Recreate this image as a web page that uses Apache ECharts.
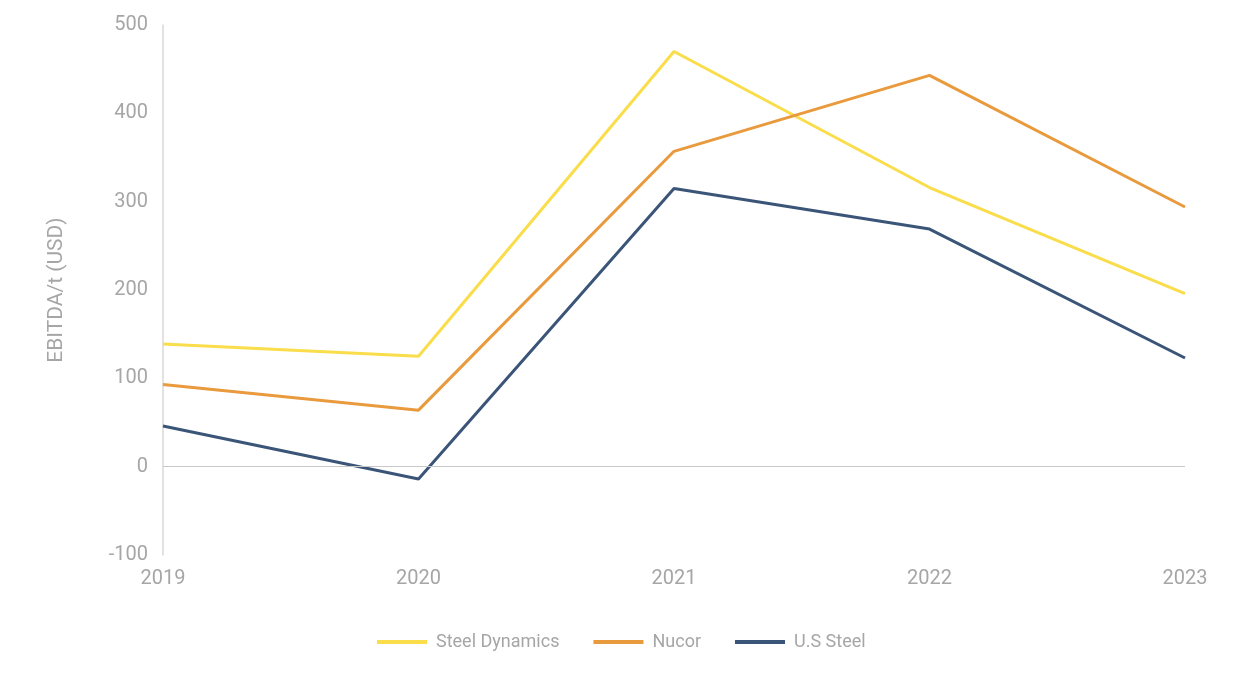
<!DOCTYPE html>
<html lang="en">

<head>
    <meta charset="UTF-8" />
    <title>EBITDA per tonne</title>
    <script src="https://cdn.jsdelivr.net/npm/echarts@6/dist/echarts.min.js"></script>
    <style>
        * {
            margin: 0;
        }

        #chart {
            width: 1254px;
            height: 683px;
            background-color: #ffffff;
        }
    </style>
</head>

<body>
    <div id="chart"></div>
    <script>
        const years = ["2019", "2020", "2021", "2022", "2023"];
        const steelDynamics = [139, 125, 470, 316, 196];
        const nucor = [93, 64, 357, 443, 294];
        const usSteel = [46, -14, 315, 269, 123];

        const labelColor = "#a6a6a6";
        const fontFamily = "Roboto, 'Noto Sans', sans-serif";

        const chart = echarts.init(document.getElementById("chart"));

        const lineSeries = (name, data, color) => ({
            name: name,
            type: "line",
            data: data,
            symbol: "none",
            lineStyle: { color: color, width: 3 },
            itemStyle: { color: color },
        });

        const series = [
            lineSeries("Steel Dynamics", steelDynamics, "#f9dd4a"),
            lineSeries("Nucor", nucor, "#e99a3c"),
            lineSeries("U.S Steel", usSteel, "#3b5578"),
        ];

        // zero line across the plot, x labels stay at the bottom
        series[0].markLine = {
            silent: true,
            symbol: "none",
            label: { show: false },
            lineStyle: { color: "#c8c8c8", width: 1, type: "solid" },
            data: [{ yAxis: 0 }],
        };

        chart.setOption({
            animation: false,
            textStyle: { fontFamily: fontFamily },
            grid: { left: 163, right: 69, top: 25, bottom: 128 },
            legend: {
                bottom: 27,
                left: 372,
                icon: "rect",
                itemWidth: 50,
                itemHeight: 4,
                itemGap: 34,
                textStyle: { color: labelColor, fontSize: 18, fontFamily: fontFamily, padding: [0, 0, 0, 4] },
            },
            xAxis: {
                type: "category",
                data: years,
                boundaryGap: false,
                axisLine: { show: false, onZero: false },
                axisTick: { show: false },
                axisLabel: { color: labelColor, fontSize: 20, margin: 14 },
            },
            yAxis: {
                type: "value",
                min: -100,
                max: 500,
                interval: 100,
                name: "EBITDA/t (USD)",
                nameLocation: "middle",
                nameGap: 96,
                nameTextStyle: { color: labelColor, fontSize: 21 },
                axisLine: { show: true, lineStyle: { color: "#d9d9d9", width: 1.5 } },
                axisTick: { show: false },
                splitLine: { show: false },
                axisLabel: { color: labelColor, fontSize: 20, margin: 15 },
            },
            series: series,
        });
    </script>
</body>

</html>
